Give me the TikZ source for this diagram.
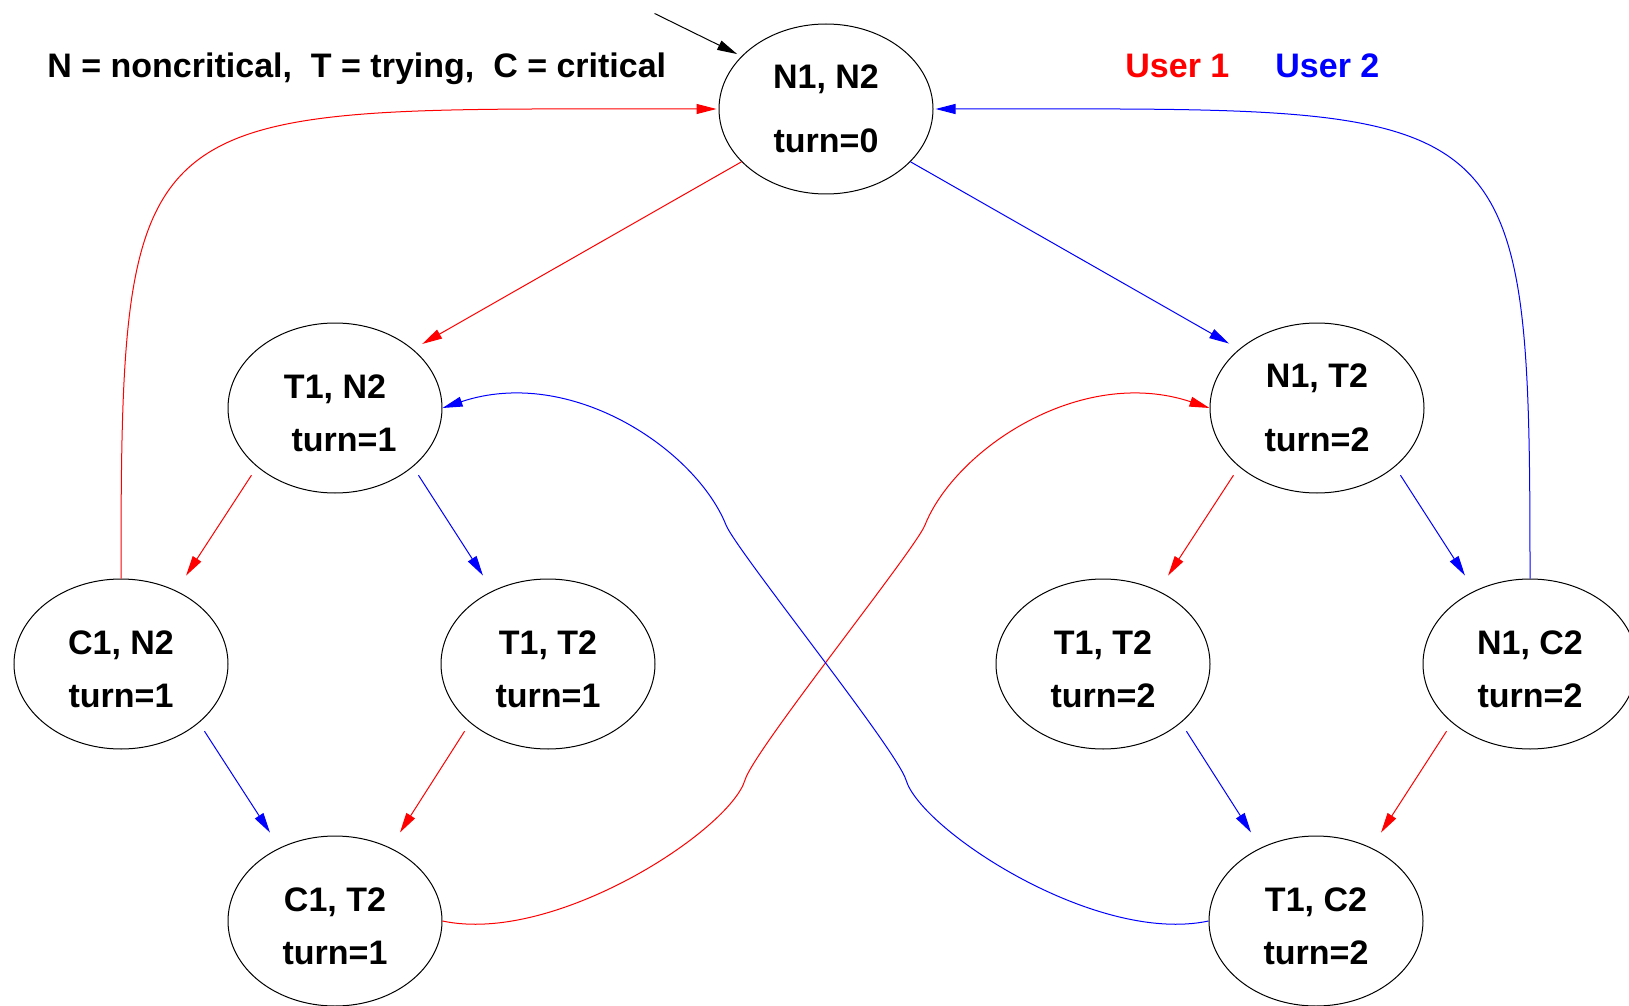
\documentclass[tikz,border=0pt]{standalone}
\usepackage{fontspec}
\setmainfont{Liberation Sans}
\usetikzlibrary{shapes.geometric, arrows.meta, positioning}
\tikzset{
    statebase/.style={
        ellipse, draw=black, line width=0.5pt,
        minimum width=107pt, minimum height=85pt, inner sep=0pt, align=center
    },
    state/.style={
        statebase, font=\fontsize{17}{26.5}\selectfont\bfseries
    },
    widestate/.style={
        statebase, font=\fontsize{17}{32}\selectfont\bfseries
    },
    legend/.style={anchor=base west, inner sep=0pt, font=\fontsize{17}{20}\selectfont\bfseries},
    entry/.style={black, line width=0.5pt, -{Triangle[length=10pt, width=5pt]}},
    user1/.style={red, line width=0.5pt, -{Triangle[length=10pt, width=5pt]}},
    user2/.style={blue, line width=0.5pt, -{Triangle[length=10pt, width=5pt]}},
    hop/.style={shorten <=5pt, shorten >=9pt}
}

\begin{document}
\begin{tikzpicture}[x=0.5pt, y=-0.5pt, node distance=128pt and 107pt, on grid]
\useasboundingbox (0,0) rectangle (1629,1006);

% Legend
\node[legend] (key) at (47,78) {N = noncritical,\ \ T = trying,\ \ C = critical};
\node[legend, red] (user1) at (1125,78) {User 1};
\node[legend, blue] (user2) at (1275,78) {User 2};

% States
\node[widestate] (n1n2) at (826,109) {N1, N2\\turn=0};
\node[state, below left=149.5pt and 245.5pt of n1n2] (t1n2) {\rule{0pt}{17pt}T1, N2\\\hspace*{9pt}turn=1};
\node[widestate, below right=149.5pt and 245.5pt of n1n2] (n1t2) {N1, T2\\turn=2};
\node[state, below left=of t1n2] (c1n2) {\rule{0pt}{17pt}C1, N2\\turn=1};
\node[state, below right=128pt and 106.5pt of t1n2] (t1t2a) {\rule{0pt}{17pt}T1, T2\\turn=1};
\node[state, below left=of n1t2] (t1t2b) {\rule{0pt}{17pt}T1, T2\\turn=2};
\node[state, below right=128pt and 106.5pt of n1t2] (n1c2) {\rule{0pt}{17pt}N1, C2\\turn=2};
\node[state, below right=128.5pt and 107pt of c1n2] (c1t2) {\rule{0pt}{17pt}C1, T2\\turn=1};
\node[state, below left=128.5pt and 107pt of n1c2] (t1c2) {\rule{0pt}{17pt}T1, C2\\turn=2};

% Initial state
\coordinate (init) at (654.6,13.5);
\draw[entry, shorten >=2.4pt] (init) -- (n1n2.148);

% User 1 moves
\draw[user1, shorten >=5.3pt] (n1n2.212) -- (t1n2.37);
\draw[user1, hop] (t1n2.217) -- (c1n2.53);
\draw[user1, hop] (t1t2a.217) -- (c1t2.53);
\draw[user1, hop] (n1t2.217) -- (t1t2b.53);
\draw[user1, hop] (n1c2.217) -- (t1c2.53);
\draw[user1, shorten >=1pt] (c1n2.north) .. controls (121,90) and (132,109) .. (n1n2.west);
\draw[user1] (c1t2.east) .. controls (555,945) and (730,830) .. (745,780)
    .. controls (754,750) and (915,550) .. (925,525)
    .. controls (955,450) and (1080,365) .. (n1t2.west);

% User 2 moves
\draw[user2, shorten >=5.7pt] (n1n2.328) -- (n1t2.143);
\draw[user2, hop] (t1n2.323) -- (t1t2a.127);
\draw[user2, hop] (c1n2.323) -- (c1t2.127);
\draw[user2, hop] (n1t2.323) -- (n1c2.127);
\draw[user2, hop] (t1t2b.323) -- (t1c2.127);
\draw[user2, shorten >=1pt] (n1c2.north) .. controls (1530,90) and (1520,109) .. (n1n2.east);
\draw[user2] (t1c2.west) .. controls (1096,945) and (921,830) .. (906,780)
    .. controls (897,750) and (736,550) .. (726,525)
    .. controls (696,450) and (571,365) .. (t1n2.east);

\end{tikzpicture}
\end{document}
